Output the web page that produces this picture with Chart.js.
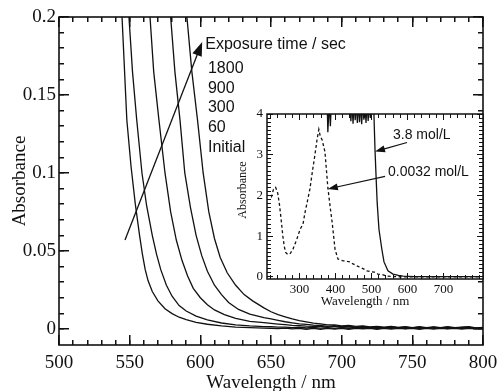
<!DOCTYPE html>
<html>
<head>
<meta charset="utf-8">
<script src="https://cdn.jsdelivr.net/npm/chart.js@4.4.0/dist/chart.umd.min.js"></script>
<style>
  html, body { margin: 0; padding: 0; background: #fff; overflow: hidden; }
  #wrap { position: relative; width: 500px; height: 391px; }
  #mainChart { position: absolute; left: 0; top: 0; }
  #insetChart { position: absolute; left: 225px; top: 100px; }
</style>
</head>
<body>
<div id="wrap">
  <canvas id="mainChart" width="500" height="391"></canvas>
  <canvas id="insetChart" width="275" height="220"></canvas>
</div>
<script>
const INK = '#111';
const SERIF = '"Liberation Serif", "Times New Roman", serif';
const SANS = '"Liberation Sans", Arial, sans-serif';

// main plot: absorption edge vs exposure time
const xTicks = [500, 550, 600, 650, 700, 750, 800];
const yTicks = [0, 0.05, 0.1, 0.15, 0.2];
const yTickLabels = ['0', '0.05', '0.1', '0.15', '0.2'];

const tailWl = [650, 655, 660, 665, 670, 675, 680, 685, 690, 695, 700, 705, 710, 715, 720, 725,
    730, 735, 740, 745, 750, 755, 760, 765, 770, 775, 780, 785, 790, 795, 800];

const wlInitial = [541, 544.6, 548, 551, 554, 557, 559, 561, 563, 566, 570, 575, 580, 585, 590, 597, 605, 615, 625, 635, 645];
const absInitial = [0.26, 0.2, 0.134, 0.104, 0.08, 0.06, 0.048, 0.038, 0.031, 0.024, 0.018, 0.013, 0.0098, 0.0075, 0.006, 0.0042, 0.003, 0.0019, 0.0012, 0.0008, 0.0005];
const absInitialTail = [0.0004, 0.0002, 0.0005, 0.0000, 0.0004, -0.0002, 0.0004, -0.0002, 0.0003, -0.0001, 0.0004, -0.0002, 0.0003, 0.0000, 0.0004, -0.0002,
    0.0003, -0.0001, 0.0004, 0.0000, 0.0003, -0.0002, 0.0004, -0.0001, 0.0003, 0.0000, 0.0004, -0.0001, 0.0003, 0.0000, 0.0002];

const wl60 = [546, 549.5, 552, 555, 558.7, 562, 566, 569, 572, 576, 580, 585, 590, 597, 605, 615, 625, 635, 645];
const abs60 = [0.26, 0.2, 0.165, 0.134, 0.1, 0.079, 0.06, 0.048, 0.038, 0.028, 0.021, 0.015, 0.0115, 0.0082, 0.0058, 0.0038, 0.0026, 0.0019, 0.0015];
const abs60Tail = [0.0014, 0.0012, 0.0011, 0.0008, 0.0011, 0.0006, 0.0010, 0.0005, 0.0009, 0.0004, 0.0008, 0.0003, 0.0008, 0.0004, 0.0007, 0.0002,
    0.0007, 0.0003, 0.0008, 0.0002, 0.0007, 0.0003, 0.0008, 0.0004, 0.0007, 0.0002, 0.0008, 0.0003, 0.0006, 0.0007, 0.0004];

const wl300 = [561, 564.4, 567, 570.7, 575, 579, 583, 587, 591, 595, 600, 605, 610, 617, 625, 635, 645];
const abs300 = [0.26, 0.2, 0.165, 0.134, 0.1, 0.075, 0.057, 0.044, 0.034, 0.026, 0.02, 0.0155, 0.0122, 0.0092, 0.0068, 0.0049, 0.0040];
const abs300Tail = [0.0036, 0.0031, 0.0027, 0.0023, 0.0021, 0.0018, 0.0017, 0.0016, 0.0012, 0.0016, 0.0010, 0.0014, 0.0007, 0.0012, 0.0008, 0.0011,
    0.0004, 0.0010, 0.0005, 0.0009, 0.0003, 0.0009, 0.0004, 0.0010, 0.0005, 0.0009, 0.0003, 0.0008, 0.0010, 0.0002, 0.0006];

const wl900 = [576, 579, 582, 585.6, 589, 593, 597, 601, 605, 610, 615, 620, 627, 635, 645];
const abs900 = [0.26, 0.2, 0.165, 0.134, 0.1, 0.078, 0.06, 0.047, 0.037, 0.028, 0.022, 0.017, 0.0125, 0.0095, 0.0072];
const abs900Tail = [0.0065, 0.0055, 0.0046, 0.0039, 0.0032, 0.0029, 0.0024, 0.0022, 0.0017, 0.0021, 0.0014, 0.0018, 0.0011, 0.0016, 0.0010, 0.0014,
    0.0007, 0.0013, 0.0008, 0.0012, 0.0006, 0.0011, 0.0005, 0.0012, 0.0007, 0.0011, 0.0005, 0.0010, 0.0012, 0.0004, 0.0008];

const wl1800 = [587, 590.5, 594, 598, 602, 606, 610, 614, 619, 625, 631, 637, 645];
const abs1800 = [0.26, 0.2, 0.165, 0.134, 0.1, 0.075, 0.058, 0.046, 0.036, 0.028, 0.022, 0.018, 0.0135];
const abs1800Tail = [0.011, 0.0092, 0.0078, 0.0064, 0.0053, 0.0045, 0.0037, 0.0033, 0.0026, 0.0026, 0.0020, 0.0023, 0.0016, 0.0020, 0.0013, 0.0017,
    0.0011, 0.0016, 0.0010, 0.0015, 0.0009, 0.0014, 0.0008, 0.0013, 0.0009, 0.0015, 0.0008, 0.0012, 0.0014, 0.0007, 0.0010];

const exposureTitle = 'Exposure time / sec';
const exposureLabels = ['1800', '900', '300', '60', 'Initial'];

// inset: full spectra
const insetXTicks = [300, 400, 500, 600, 700];
const insetYTicks = [0, 1, 2, 3, 4];

const wlDilute = [222, 228, 234, 240, 245, 250, 254, 258, 262, 268, 275, 282, 293, 302, 310, 316, 322, 329, 338, 344,
    349, 354, 358, 363, 371, 379, 385, 391, 399, 407, 420, 433, 441, 449, 458, 468, 478, 488, 498, 508,
    518, 530, 543, 560, 590, 650, 700, 750, 800];
const absDilute = [1.95, 2.15, 2.2, 2.05, 1.75, 1.35, 1.0, 0.75, 0.6, 0.55, 0.58, 0.68, 0.93, 1.17, 1.3, 1.6, 1.85, 2.15, 2.7, 3.05,
    3.37, 3.62, 3.45, 3.37, 3.07, 2.2, 1.75, 1.34, 0.68, 0.44, 0.4, 0.38, 0.37, 0.32, 0.28, 0.24, 0.2, 0.15, 0.13, 0.12,
    0.07, 0.06, 0.02, 0.01, 0, 0, 0, 0, 0];

const wlConc = [222, 300, 370, 377, 379, 383, 386, 389, 392, 440, 443, 446, 449, 452, 455, 458, 461, 464, 467, 470,
    473, 476, 479, 482, 485, 488, 491, 494, 497, 500, 504, 507, 510, 513, 516, 521, 529, 535, 546, 560,
    575, 588, 620, 700, 800];
const absConc = [4.3, 4.3, 4.3, 4.3, 3.55, 4.3, 3.7, 4.3, 4.3, 4.3, 3.82, 4.3, 3.76, 4.3, 3.85, 4.3, 3.78, 4.3, 3.8, 4.3,
    3.75, 4.3, 3.86, 4.3, 3.78, 4.3, 3.83, 4.3, 3.9, 4.3, 4.3, 4.0, 3.12, 2.46, 1.83, 1.17, 0.68, 0.37, 0.15, 0.07,
    0.04, 0.02, 0.01, 0.01, 0.01];

function toPoints(xs, ys) {
    return xs.map((x, i) => ({ x: x, y: ys[i] }));
}

function curve(xs, ys, dash) {
    return {
        data: toPoints(xs, ys),
        borderColor: INK,
        borderWidth: 1.3,
        borderDash: dash || [],
        pointRadius: 0,
        tension: 0,
        fill: false,
    };
}

function range(from, to, step) {
    const out = [];
    for (let i = 0; from + i * step <= to + 1e-9; i++) out.push(+(from + i * step).toFixed(4));
    return out;
}

function drawArrow(ctx, x1, y1, x2, y2, len, half) {
    const ang = Math.atan2(y2 - y1, x2 - x1);
    ctx.beginPath();
    ctx.moveTo(x1, y1);
    ctx.lineTo(x2 - Math.cos(ang) * len * 0.8, y2 - Math.sin(ang) * len * 0.8);
    ctx.stroke();
    ctx.beginPath();
    ctx.moveTo(x2, y2);
    ctx.lineTo(x2 - Math.cos(ang) * len - Math.sin(ang) * half, y2 - Math.sin(ang) * len + Math.cos(ang) * half);
    ctx.lineTo(x2 - Math.cos(ang) * len + Math.sin(ang) * half, y2 - Math.sin(ang) * len - Math.cos(ang) * half);
    ctx.closePath();
    ctx.fill();
}

// inward ticks on all four sides + the box (ticks as filled rects)
function makeFrame(cfg) {
    return {
        id: 'frameTicks',
        beforeDatasetsDraw(chart) {
            if (!cfg.fill) return;
            const { ctx, chartArea: a } = chart;
            ctx.save();
            ctx.fillStyle = '#fff';
            ctx.fillRect(a.left, a.top, a.right - a.left, a.bottom - a.top);
            ctx.restore();
        },
        afterDraw(chart) {
            const { ctx, chartArea: a, scales: { x, y } } = chart;
            const w = cfg.tickWidth;
            ctx.save();
            ctx.fillStyle = INK;
            const tickX = (v, len) => {
                const p = Math.round(x.getPixelForValue(v) - w / 2);
                ctx.fillRect(p, a.bottom - len, w, len);
                ctx.fillRect(p, a.top, w, len);
            };
            const tickY = (v, len) => {
                const p = Math.round(y.getPixelForValue(v) - w / 2);
                ctx.fillRect(a.left, p, len, w);
                ctx.fillRect(a.right - len, p, len, w);
            };
            cfg.xMinor.forEach(v => tickX(v, cfg.minorLen));
            cfg.yMinor.forEach(v => tickY(v, cfg.minorLen));
            cfg.xMajor.forEach(v => tickX(v, cfg.majorLen));
            cfg.yMajor.forEach(v => tickY(v, cfg.majorLen));
            ctx.strokeStyle = INK;
            ctx.lineWidth = cfg.boxWidth;
            ctx.strokeRect(a.left, a.top, a.right - a.left, a.bottom - a.top);
            ctx.restore();
        }
    };
}

// text and arrows of the main plot
const mainNotes = {
    id: 'mainNotes',
    afterDraw(chart) {
        const { ctx, scales: { x, y } } = chart;
        ctx.save();
        ctx.strokeStyle = INK;
        ctx.fillStyle = INK;
        ctx.lineWidth = 1.3;
        drawArrow(ctx, x.getPixelForValue(546.7), y.getPixelForValue(0.057),
            x.getPixelForValue(601.3), y.getPixelForValue(0.184), 14, 5);
        ctx.font = '16px ' + SANS;
        ctx.textBaseline = 'middle';
        ctx.textAlign = 'left';
        ctx.fillText(exposureTitle, x.getPixelForValue(603.5), y.getPixelForValue(0.182));
        const lx = x.getPixelForValue(605.4);
        const ly = y.getPixelForValue(0.167);
        exposureLabels.forEach((t, i) => ctx.fillText(t, lx, ly + i * 19.7));
        ctx.restore();
    }
};

const mainChart = new Chart(document.getElementById('mainChart'), {
    type: 'line',
    data: {
        datasets: [
            curve(wlInitial.concat(tailWl), absInitial.concat(absInitialTail)),
            curve(wl60.concat(tailWl), abs60.concat(abs60Tail)),
            curve(wl300.concat(tailWl), abs300.concat(abs300Tail)),
            curve(wl900.concat(tailWl), abs900.concat(abs900Tail)),
            curve(wl1800.concat(tailWl), abs1800.concat(abs1800Tail)),
        ]
    },
    options: {
        responsive: false,
        animation: false,
        events: [],
        layout: { padding: { left: 0, right: 17, top: 17, bottom: 0 } },
        plugins: {
            legend: { display: false },
            tooltip: { enabled: false },
        },
        scales: {
            x: {
                type: 'linear', min: 500, max: 800,
                grid: { display: false, drawTicks: false },
                border: { display: false },
                afterBuildTicks: s => { s.ticks = xTicks.map(v => ({ value: v })); },
                ticks: { font: { family: SERIF, size: 19 }, color: INK, padding: 7, maxRotation: 0, autoSkip: false },
                title: { display: true, text: 'Wavelength / nm', color: INK, font: { family: SERIF, size: 19 }, padding: { top: 0, bottom: -3 } },
                afterFit: s => { s.height = 46; s.paddingLeft = 0; s.paddingRight = 0; },
            },
            y: {
                type: 'linear', min: -0.0103, max: 0.2,
                grid: { display: false, drawTicks: false },
                border: { display: false },
                afterBuildTicks: s => { s.ticks = yTicks.map(v => ({ value: v })); },
                ticks: {
                    font: { family: SERIF, size: 19 }, color: INK, padding: 3, autoSkip: false,
                    callback: (v, i) => yTickLabels[i],
                },
                title: { display: true, text: 'Absorbance', color: INK, font: { family: SERIF, size: 19 }, padding: { top: 9, bottom: 0 } },
                afterFit: s => { s.width = 59; s.paddingTop = 0; s.paddingBottom = 0; },
            },
        },
    },
    plugins: [makeFrame({
        xMajor: xTicks, yMajor: yTicks,
        xMinor: range(500, 800, 10), yMinor: range(0, 0.2, 0.01),
        majorLen: 10, minorLen: 5, tickWidth: 1.5, boxWidth: 1.6, fill: false,
    }), mainNotes],
});

// labels, arrows and titles of the inset
const insetNotes = {
    id: 'insetNotes',
    afterDraw(chart) {
        const { ctx, scales: { x, y } } = chart;
        ctx.save();
        ctx.strokeStyle = INK;
        ctx.fillStyle = INK;
        ctx.lineWidth = 1.2;
        drawArrow(ctx, x.getPixelForValue(599), y.getPixelForValue(3.3),
            x.getPixelForValue(510), y.getPixelForValue(3.08), 10, 3.5);
        drawArrow(ctx, x.getPixelForValue(538), y.getPixelForValue(2.47),
            x.getPixelForValue(379), y.getPixelForValue(2.16), 10, 3.5);
        ctx.font = '14px ' + SANS;
        ctx.textBaseline = 'middle';
        ctx.textAlign = 'left';
        ctx.fillText('3.8 mol/L', x.getPixelForValue(560), y.getPixelForValue(3.49));
        ctx.fillText('0.0032 mol/L', x.getPixelForValue(546), y.getPixelForValue(2.57));
        ctx.font = '13px ' + SERIF;
        ctx.textAlign = 'center';
        ctx.fillText('Wavelength / nm', 140, 202);
        ctx.translate(18, 90);
        ctx.rotate(-Math.PI / 2);
        ctx.font = '12px ' + SERIF;
        ctx.fillText('Absorbance', 0, 0);
        ctx.restore();
    }
};

const insetChart = new Chart(document.getElementById('insetChart'), {
    type: 'line',
    data: {
        datasets: [
            curve(wlConc, absConc),
            curve(wlDilute, absDilute, [3, 2.5]),
        ]
    },
    options: {
        responsive: false,
        animation: false,
        events: [],
        layout: { padding: { left: 0, right: 17, top: 14, bottom: 0 } },
        plugins: {
            legend: { display: false },
            tooltip: { enabled: false },
        },
        scales: {
            x: {
                type: 'linear', min: 210, max: 810,
                grid: { display: false, drawTicks: false },
                border: { display: false },
                afterBuildTicks: s => { s.ticks = insetXTicks.map(v => ({ value: v })); },
                ticks: { font: { family: SERIF, size: 13 }, color: INK, padding: 3, maxRotation: 0, autoSkip: false },
                afterFit: s => { s.height = 41; s.paddingLeft = 0; s.paddingRight = 0; },
            },
            y: {
                type: 'linear', min: -0.05, max: 4,
                grid: { display: false, drawTicks: false },
                border: { display: false },
                afterBuildTicks: s => { s.ticks = insetYTicks.map(v => ({ value: v })); },
                ticks: { font: { family: SERIF, size: 13 }, color: INK, padding: 4, autoSkip: false },
                afterFit: s => { s.width = 42; s.paddingTop = 0; s.paddingBottom = 0; },
            },
        },
    },
    plugins: [makeFrame({
        xMajor: insetXTicks, yMajor: insetYTicks,
        xMinor: range(220, 800, 20), yMinor: range(0, 4, 0.1),
        majorLen: 6, minorLen: 4, tickWidth: 1, boxWidth: 1.5, fill: true,
    }), insetNotes],
});
</script>
</body>
</html>
